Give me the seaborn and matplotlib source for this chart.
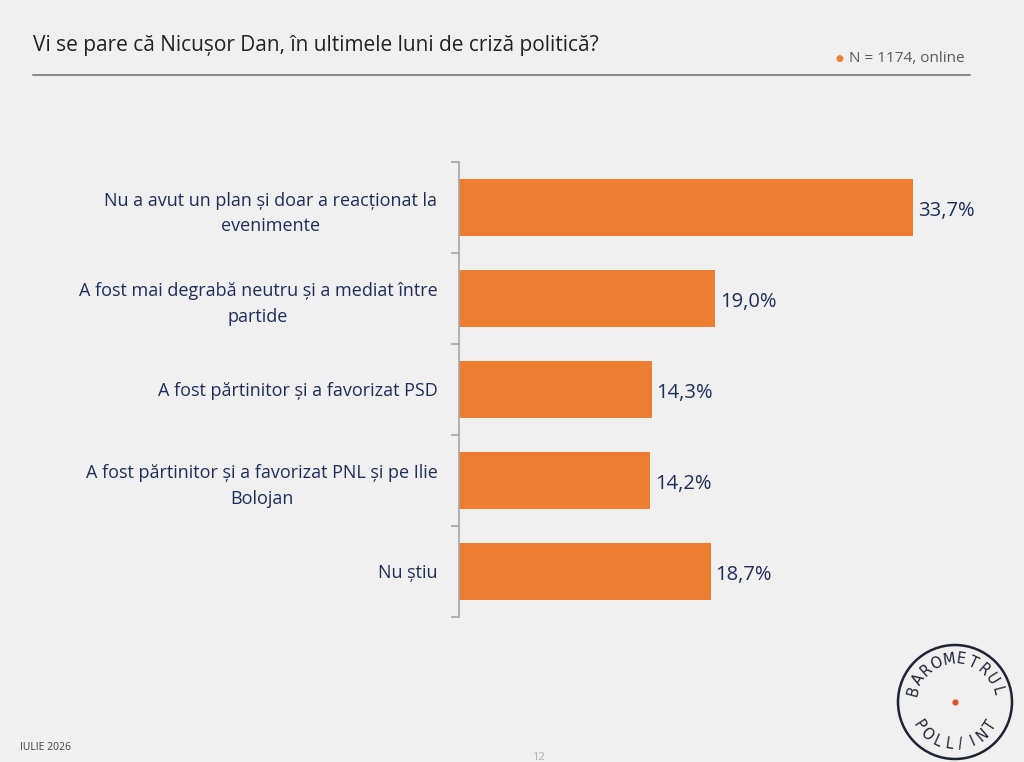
import numpy as np
import pandas as pd
import matplotlib.pyplot as plt
import seaborn as sns
from matplotlib.patches import Circle

# data
categories = [
    "Nu a avut un plan și doar a reacționat la\nevenimente",
    "A fost mai degrabă neutru și a mediat între\npartide",
    "A fost părtinitor și a favorizat PSD",
    "A fost părtinitor și a favorizat PNL și pe Ilie\nBolojan",
    "Nu știu",
]
values = [33.7, 19.0, 14.3, 14.2, 18.7]
title = "Vi se pare că Nicușor Dan, în ultimele luni de criză politică?"
note = "N = 1174, online"
footer = "IULIE 2026"
page = "12"

BG = "#f0f0f0"
ORANGE = "#ed7d31"
NAVY = "#1f2d5a"

sns.set_style("white")
plt.rcParams["font.family"] = ["Open Sans", "DejaVu Sans"]

df = pd.DataFrame({"cat": categories, "val": values})

fig = plt.figure(figsize=(10.24, 7.62), dpi=100, facecolor=BG)
W, H = 1024, 762
# axes: x 459..1000 px, y 162..617 px
ax = fig.add_axes([459 / W, (H - 617) / H, (1000 - 459) / W, (617 - 162) / H])
ax.set_facecolor(BG)

sns.barplot(data=df, y="cat", x="val", orient="h", color=ORANGE,
            width=0.63, saturation=1, linewidth=0, ax=ax)
ax.set_xlim(0, 541 / (454 / 33.7))
ax.set_ylim(len(categories) - 0.5, -0.5)

for i, v in enumerate(values):
    ax.text(v + 0.35, i + 0.04, f"{v:.1f}".replace(".", ",") + "%",
            va="center", ha="left", fontsize=14.5, color=NAVY)

ax.set_xlabel("")
ax.set_ylabel("")
ax.set_xticks([])
ax.set_yticks(range(len(categories)))
ax.set_yticklabels(categories, fontsize=13, color=NAVY)
for lbl in ax.get_yticklabels():
    lbl.set_ha("right")
    lbl.set_multialignment("center")
    lbl.set_linespacing(1.55)
ax.tick_params(axis="y", which="major", length=0, pad=15.5)
ax.set_yticks(np.arange(-0.5, len(categories)), minor=True)
ax.tick_params(axis="y", which="minor", left=True, length=6,
               color="#a6a6a6", width=1.2)
for s in ["top", "right", "bottom"]:
    ax.spines[s].set_visible(False)
ax.spines["left"].set_color("#a6a6a6")
ax.spines["left"].set_linewidth(1.2)

# header
fig.text(33 / W, 1 - 45 / H, title, fontsize=15, color="#222222",
         ha="left", va="center")
fig.add_artist(plt.Line2D([33 / W, 970 / W], [1 - 75 / H, 1 - 75 / H],
                          color="#8c8c8c", lw=1.5))
fig.text(965 / W, 1 - 58 / H, note, fontsize=11, color="#595959",
         ha="right", va="center")
fig.text(839 / W, 1 - 59 / H, "●", fontsize=6.5, color=ORANGE,
         ha="center", va="center", family="DejaVu Sans")

# footer
fig.text(20 / W, 1 - 748 / H, footer, fontsize=7.5, color="#404040",
         ha="left", va="center")
fig.text(538 / W, 1 - 758 / H, page, fontsize=8, color="#b0b0b0",
         ha="center", va="center")

# logo
lax = fig.add_axes([0, 0, 1, 1], facecolor="none")
lax.set_xlim(0, W)
lax.set_ylim(H, 0)
lax.set_aspect("equal")
lax.axis("off")
cx, cy, r = 955, 702, 57
lax.add_patch(Circle((cx, cy), r, fill=False, ec="#1f2333", lw=1.8))
lax.plot(cx, cy, "o", color="#e0552a", ms=3.5)
top_word = "BAROMETRUL"
rt = 43
angles = np.linspace(165, 15, len(top_word))
for ch, a in zip(top_word, angles):
    x = cx + rt * np.cos(np.radians(a))
    y = cy - rt * np.sin(np.radians(a))
    lax.text(x, y, ch, rotation=a - 90, ha="center", va="center",
             fontsize=10.5, color="#1f2333", family="DejaVu Sans")
bot_word = "POLL/INT"
angles = np.linspace(213, 327, len(bot_word))
for ch, a in zip(bot_word, angles):
    x = cx + rt * np.cos(np.radians(a))
    y = cy - rt * np.sin(np.radians(a))
    lax.text(x, y, ch, rotation=a + 90, ha="center", va="center",
             fontsize=10.5, color="#1f2333", family="DejaVu Sans")

fig.savefig("out.png", dpi=100, facecolor=BG)
